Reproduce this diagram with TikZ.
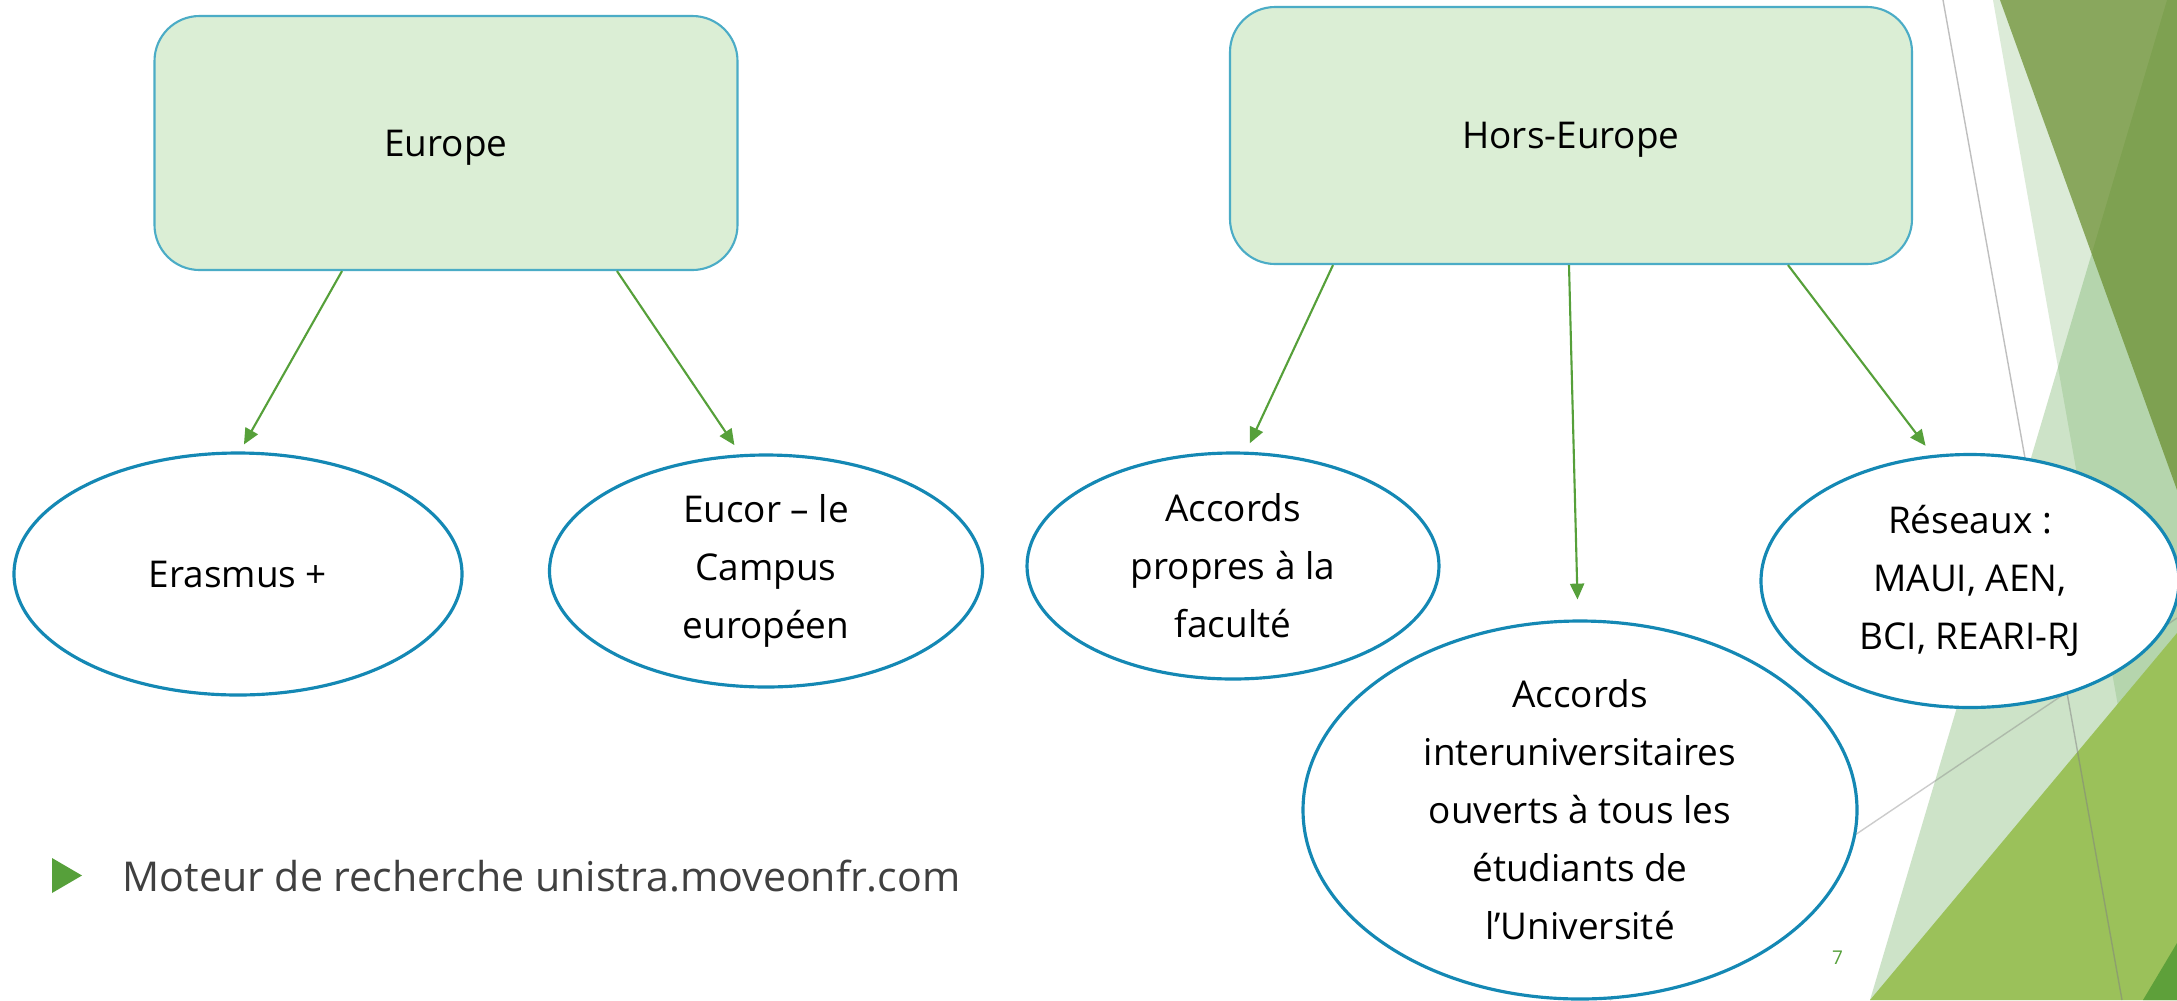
\documentclass[tikz,border=0pt]{standalone}
\usepackage{fontspec}
\setmainfont{Open Sans}
\usetikzlibrary{arrows.meta,positioning,calc,shapes.geometric}
\definecolor{boxfill}{RGB}{219,238,213}
\definecolor{boxline}{RGB}{75,172,198}
\definecolor{ovalline}{RGB}{20,136,180}
\definecolor{linkgreen}{RGB}{86,160,58}
\definecolor{facetpale}{RGB}{220,235,216}
\definecolor{facetmid}{RGB}{96,166,80}
\definecolor{facetolive}{RGB}{106,142,46}
\definecolor{facetbright}{RGB}{155,193,90}
\definecolor{facetdark}{RGB}{94,160,58}
\definecolor{bodygrey}{RGB}{64,64,64}

\begin{document}
\begin{tikzpicture}[x=0.1mm,y=-0.1mm,
    region/.style={draw=boxline,fill=boxfill,line width=0.6pt,rounded corners=4.5mm,text depth=0pt,font=\fontsize{10.5}{12.6}\selectfont},
    oval/.style={ellipse,draw=ovalline,fill=white,line width=0.9pt,align=center,inner sep=0pt,font=\fontsize{10.5}{16.5}\selectfont},
    link/.style={draw=linkgreen,line width=0.6pt,-{Triangle[length=4.5pt,width=4pt]}}]
      \useasboundingbox (0,0) rectangle (2177,1000);
      \fill[white] (0,0) rectangle (2177,1000);
      % facets on the right
      \fill[facetpale] (1993,0) -- (2177,0) -- (2177,1000) -- (2170,1000) -- cycle;
      \fill[facetmid,opacity=0.31] (2167,0) -- (2177,0) -- (2177,1000) -- (1870,1000) -- cycle;
      \fill[facetolive,opacity=0.72] (2000,0) -- (2177,0) -- (2177,490) -- cycle;
      \fill[facetbright] (1870,1000) -- (2177,633) -- (2177,1000) -- cycle;
      \fill[facetdark] (2143,1000) -- (2177,943) -- (2177,1000) -- cycle;
      \draw[gray,opacity=0.5,line width=0.4pt] (1943,0) -- (2122,1000);
      \draw[gray,opacity=0.4,line width=0.4pt] (1610,1000) -- (2177,618);

      \node[region,minimum width=58.3mm,minimum height=25.4mm] (europe) at (446,143) {Europe};
      \node[region,minimum width=68.2mm,minimum height=25.7mm] (horseurope) at (1571,135.5) {Hors-Europe};

      \node[oval,minimum width=44.8mm,minimum height=24.2mm] (erasmus) at (238,574) {Erasmus +};
      \node[oval,minimum width=43.3mm,minimum height=23.2mm] (eucor) at (766,571) {Eucor – le\\Campus\\européen};
      \node[oval,minimum width=41.2mm,minimum height=22.6mm] (propres) at (1233,566) {Accords\\propres à la\\faculté};
      \node[oval,minimum width=55.4mm,minimum height=37.8mm] (interuniv) at (1580,810) {Accords\\interuniversitaires\\ouverts à tous les\\étudiants de\\l’Université};
      \node[oval,minimum width=41.8mm,minimum height=25.3mm] (reseaux) at (1970,581) {Réseaux :\\MAUI, AEN,\\BCI, REARI-RJ};

      \draw[link,shorten >=0.8mm] ([xshift=-10.4mm]europe.south) -- ([xshift=0.2mm]erasmus.north);
      \draw[link,shorten >=1mm] ([xshift=17.1mm]europe.south) -- ([xshift=-2.6mm]eucor.north);
      \draw[link,shorten >=0.9mm] ([xshift=-23.8mm]horseurope.south) -- ([xshift=1.3mm]propres.north);
      \draw[link,shorten >=2mm] ([xshift=-0.2mm]horseurope.south) -- ([xshift=-0.2mm]interuniv.north);
      \draw[link,shorten >=0.9mm] ([xshift=21.7mm]horseurope.south) -- ([xshift=-3.9mm]reseaux.north);

      \fill[linkgreen] (52,858) -- (82,875.5) -- (52,893) -- cycle;
      \node[anchor=base west,inner sep=0pt,text=bodygrey,font=\fontsize{11.7}{14}\selectfont] (search) at (122,891) {Moteur de recherche unistra.moveonfr.com};
      \node[anchor=base,inner sep=0pt,text=linkgreen,font=\fontsize{5.4}{6}\selectfont] (pagenum) at (1837.5,964) {7};
    \end{tikzpicture}
\end{document}
